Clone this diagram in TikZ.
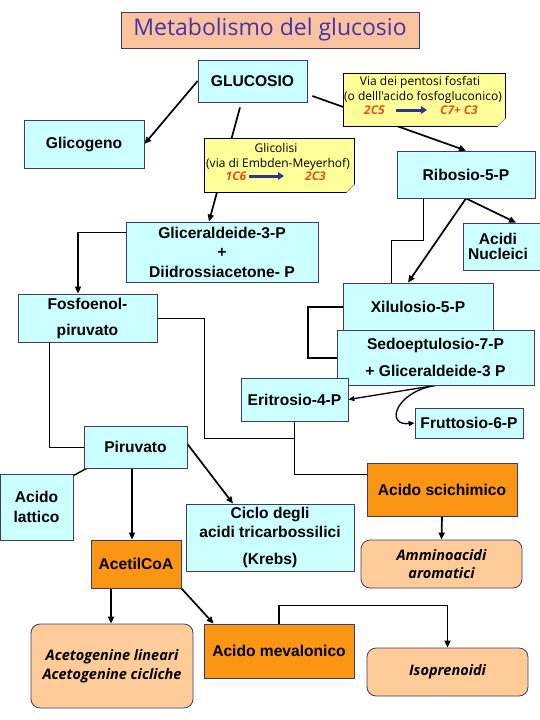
\documentclass[tikz,border=0pt]{standalone}
\usepackage{fontspec}
\setmainfont{Liberation Sans}
\newfontfamily\comicf{Open Sans}
\usetikzlibrary{arrows.meta,calc}
\pgfdeclarelayer{bg}
\pgfsetlayers{bg,main}
\definecolor{cyanf}{RGB}{204,255,255}
\definecolor{orangef}{RGB}{250,150,20}
\definecolor{peachf}{RGB}{255,204,153}
\definecolor{titlef}{RGB}{250,195,160}
\definecolor{titlet}{RGB}{70,50,170}
\definecolor{notef}{RGB}{255,255,153}
\definecolor{redt}{RGB}{230,80,20}
\definecolor{bluea}{RGB}{50,50,140}
\definecolor{bordc}{RGB}{60,60,100}
\tikzset{
  box/.style={draw=bordc, line width=0.8pt, inner sep=0pt, align=center,
    font=\bfseries\fontsize{15.6}{19}\selectfont},
  cbox/.style={box, fill=cyanf},
  obox/.style={box, fill=orangef},
  pbox/.style={box, fill=peachf, rounded corners=9pt,
    font=\comicf\bfseries\itshape\fontsize{14.5}{19}\selectfont},
  wh/.style 2 args={minimum width=#1pt, minimum height=#2pt},
  notebox/.style={draw=black, line width=0.7pt, fill=notef, inner sep=0pt},
  ntxt/.style={font=\comicf\fontsize{12}{14}\selectfont, inner sep=0pt},
  rtxt/.style={font=\comicf\bfseries\itshape\fontsize{12}{14}\selectfont, text=redt, inner sep=0pt},
  arr/.style={line width=1.7pt, -{Triangle[length=7pt,width=6pt]}},
  arrs/.style={line width=1.3pt, -{Triangle[length=6pt,width=5pt]}},
  ln/.style={line width=0.9pt},
  lnm/.style={line width=1.4pt},
  thk/.style={line width=2pt},
  barr/.style={line width=3pt, draw=bluea, -{Triangle[length=6pt,width=7.5pt]}}
}
\begin{document}
\begin{tikzpicture}[x=1pt,y=-1pt]
\useasboundingbox (0,0) rectangle (540,720);
% title
\node[draw=bordc, fill=titlef, line width=0.8pt, wh={298}{36}, inner sep=0pt,
  font=\comicf\fontsize{23}{26}\selectfont, text=titlet] (title) at (270,30) {Metabolismo del glucosio};
% boxes
\node[cbox, wh={109}{42}] (gluc) at (252.5,81) {GLUCOSIO};
\node[cbox, wh={120}{48}] (glicog) at (84,144) {Glicogeno};
\node[cbox, wh={138}{47}] (ribo) at (466,174.5) {Ribosio-5-P};
\node[cbox, wh={192}{60}, font=\bfseries\fontsize{15.6}{19.5}\selectfont] (glicer) at (222,252) {Gliceraldeide-3-P\\+\\Diidrossiacetone- P};
\node[cbox, wh={78}{47}, font=\bfseries\fontsize{15.6}{15}\selectfont] (acidi) at (502,246.5) {Acidi\hspace*{8pt}\\Nucleici\hspace*{8pt}};
\node[cbox, wh={150}{47}] (xilu) at (418,306.5) {Xilulosio-5-P};
\node[cbox, wh={197}{55}, font=\bfseries\fontsize{15.6}{27}\selectfont] (sedo) at (435.5,357.5) {Sedoeptulosio-7-P\\+ Gliceraldeide-3 P};
\node[cbox, wh={107}{43}] (eritro) at (294.5,399.5) {Eritrosio-4-P};
\node[cbox, wh={108}{30}] (frutt) at (469,423) {Fruttosio-6-P};
\node[cbox, wh={139}{48}, font=\bfseries\fontsize{15.6}{26}\selectfont] (fosfo) at (87.5,318) {Fosfoenol-\\piruvato};
\node[cbox, wh={103}{42}] (piruv) at (135.5,447) {Piruvato};
\node[cbox, wh={73}{66}, font=\bfseries\fontsize{15.6}{20}\selectfont] (lattico) at (36.5,507) {Acido\\lattico};
\node[obox, wh={90}{48}] (acetil) at (136,564) {AcetilCoA};
\node[cbox, wh={168}{67}, font=\bfseries\fontsize{15.6}{19}\selectfont] (ciclo) at (270,537.5) {Ciclo degli\\acidi tricarbossilici\\[8pt](Krebs)};
\node[obox, wh={150}{53}] (scichi) at (442,489.5) {Acido scichimico};
\node[pbox, wh={161}{48}, font=\comicf\bfseries\itshape\fontsize{14.5}{18}\selectfont] (ammino) at (441.5,564) {Amminoacidi\\aromatici};
\node[pbox, wh={162}{84}] (acetog) at (112,666) {Acetogenine lineari\\Acetogenine cicliche};
\node[obox, wh={150}{54}] (meval) at (279,651) {Acido mevalonico};
\node[pbox, wh={161}{48}] (isopr) at (447.5,672) {Isoprenoidi};
% notes
\node[notebox, wh={162}{53}] (pent) at (424,99.5) {};
\node[ntxt] (pent1) at (420,82) {Via dei pentosi fosfati};
\node[ntxt] (pent2) at (423,97) {(o delll'acido fosfogluconico)};
\node[rtxt] (p2c5) at (374.5,110) {2C5};
\node[rtxt] (pc7) at (459,110) {C7+ C3};
\draw[barr] ($(p2c5.east)+(11,0)$) -- ($(pc7.west)+(-13,0)$);
\node[notebox, wh={150}{54}] (glic) at (279,165) {};
\node[ntxt] (glic1) at (276,148) {Glicolisi};
\node[ntxt] (glic2) at (278,164) {(via di Embden-Meyerhof)};
\node[rtxt] (g1c6) at (236,176) {1C6};
\node[rtxt] (g2c3) at (315.5,176) {2C3};
\draw[barr] ($(g1c6.east)+(3,0)$) -- ($(g2c3.west)+(-21,0)$);
% folded corners
\foreach \n in {pent,glic}{
  \fill[white] ($(\n.south east)+(-8,0.6)$) -- ($(\n.south east)+(0.6,0.6)$) -- ($(\n.south east)+(0.6,-8)$) -- cycle;
  \filldraw[fill=notef!70!gray, draw=gray, line width=0.5pt] ($(\n.south east)+(-8,0)$) -- ($(\n.south east)+(0,-8)$) -- ($(\n.south east)+(-5,-3)$) -- cycle;
}
% connectors
\begin{pgfonlayer}{bg}
\fill[white] (0,0) rectangle (540,720);
\draw[arr] (gluc.west) -- (glicog.east);
\draw[arr] ($(gluc.south)+(-12.5,5)$) -- ($(glicer.north)+(-13,0)$);
\draw[arr] ($(gluc.east)+(5,15)$) -- (ribo.north);
\draw[ln] ($(ribo.south)+(-43,0)$) -- ++(0,42) -| ($(xilu.north)+(-27,0)$);
\draw[arr] (ribo.south) -- ($(acidi.north)+(14,0)$);
\draw[arr] (ribo.south) -- ($(xilu.north)+(-10,0)$);
\draw[arr] ($(glicer.north west)+(0,11)$) -| ($(fosfo.north)+(-9.5,0)$);
\draw[ln] ($(fosfo.south)+(-38.5,0)$) |- (piruv.west);
\coordinate (jn) at (294.5,438);
\draw[ln] (fosfo.east) -- ++(47,0) |- (jn);
\draw[ln] (eritro.south) |- ($(scichi.west)+(0,-15.5)$);
\draw[thk] (xilu.west) -- ++(-35,0) |- (sedo.west);
\draw[arrs] (sedo.south) -- (eritro.east);
\draw[arrs] (sedo.south) .. controls (395,392) and (385,426) .. (frutt.west);
\draw[lnm] ($(piruv.south west)+(3,0)$) -- ($(lattico.north east)+(0,2)$);
\draw[arr] ($(piruv.south)+(-3.5,0)$) -- ($(acetil.north)+(-4,0)$);
\draw[arr] ($(piruv.east)+(0,-3)$) -- ($(ciclo.north)+(-37,0)$);
\draw[arr] ($(acetil.south)+(-25,0)$) -- ($(acetog.north)+(-1,0)$);
\draw[arr] (acetil.south east) -- ($(meval.north west)+(10,0)$);
\draw[arr] (scichi.south) -- (ammino.north);
\draw[arr] (meval.north) -- ++(0,-18) -| (isopr.north);
\end{pgfonlayer}
\end{tikzpicture}
\end{document}
